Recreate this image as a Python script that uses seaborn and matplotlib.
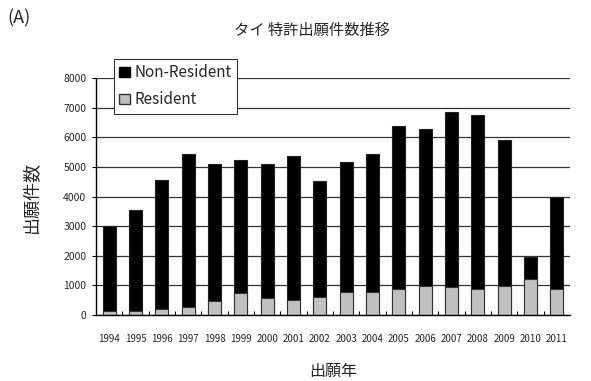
import numpy as np
import pandas as pd
import seaborn as sns
import matplotlib.pyplot as plt
from matplotlib.patches import Patch
from matplotlib.ticker import FixedLocator

# Thai patent applications by year
years = [str(y) for y in range(1994, 2012)]
resident = [150, 150, 210, 260, 470, 730, 560, 520, 620, 790,
            790, 890, 990, 940, 890, 990, 1220, 890]
non_resident = [2870, 3400, 4350, 5160, 4630, 4490, 4540, 4840, 3890, 4370,
                4630, 5490, 5290, 5920, 5870, 4910, 730, 3100]

df = pd.DataFrame({"year": years, "resident": resident, "non_resident": non_resident})
df["total"] = df["resident"] + df["non_resident"]

sns.set_style("white")
plt.rcParams['font.family'] = ['Noto Sans CJK JP', 'DejaVu Sans']

fig = plt.figure(figsize=(5.91, 3.81), dpi=100)
ax = fig.add_axes([0.1624, 0.1732, 0.802, 0.622])

sns.barplot(data=df, x="year", y="total", color="black", width=0.5,
            edgecolor="#222222", linewidth=0.8, saturation=1, ax=ax)
sns.barplot(data=df, x="year", y="resident", color="#c0c0c0", width=0.5,
            edgecolor="#333333", linewidth=0.8, saturation=1, ax=ax)

ax.set_ylim(0, 8000)
ax.set_xlim(-0.5, len(years) - 0.5)
ax.set_yticks(range(0, 8001, 1000))
ax.yaxis.grid(True, color="#333333", linewidth=0.9)
ax.set_axisbelow(True)
for s in ["top", "right"]:
    ax.spines[s].set_visible(False)
for s in ["left", "bottom"]:
    ax.spines[s].set_color("black")
    ax.spines[s].set_linewidth(1.0)

ax.tick_params(axis="y", length=3, width=0.8, labelsize=7.5, pad=4, left=True, color="black")
ax.tick_params(axis="x", which="major", length=0, labelsize=7, pad=14)
ax.xaxis.set_minor_locator(FixedLocator(np.arange(0.5, len(years) - 0.5, 1)))
ax.tick_params(axis="x", which="minor", direction="in", length=3, width=0.8, bottom=True, color="black")

ax.set_xlabel("出願年", fontsize=11.5, labelpad=13)
ax.set_ylabel("出願件数", fontsize=13, labelpad=16)

handles = [Patch(facecolor="black", edgecolor="black", label="Non-Resident"),
           Patch(facecolor="#c0c0c0", edgecolor="#333333", label="Resident")]
leg = ax.legend(handles=handles, loc="upper left", bbox_to_anchor=(0.037, 1.08),
                frameon=True, fancybox=False, fontsize=11, handlelength=0.7,
                handleheight=0.7, handletextpad=0.3, borderpad=0.35,
                labelspacing=0.65, borderaxespad=0)
leg.get_frame().set_edgecolor("#333333")
leg.get_frame().set_linewidth(0.8)
leg.get_frame().set_alpha(1)

fig.text(0.528, 0.92, "タイ 特許出願件数推移", fontsize=11, ha="center", va="center")
fig.text(0.013, 0.952, "(A)", fontsize=13, ha="left", va="center")

fig.savefig("out.png", dpi=100)
